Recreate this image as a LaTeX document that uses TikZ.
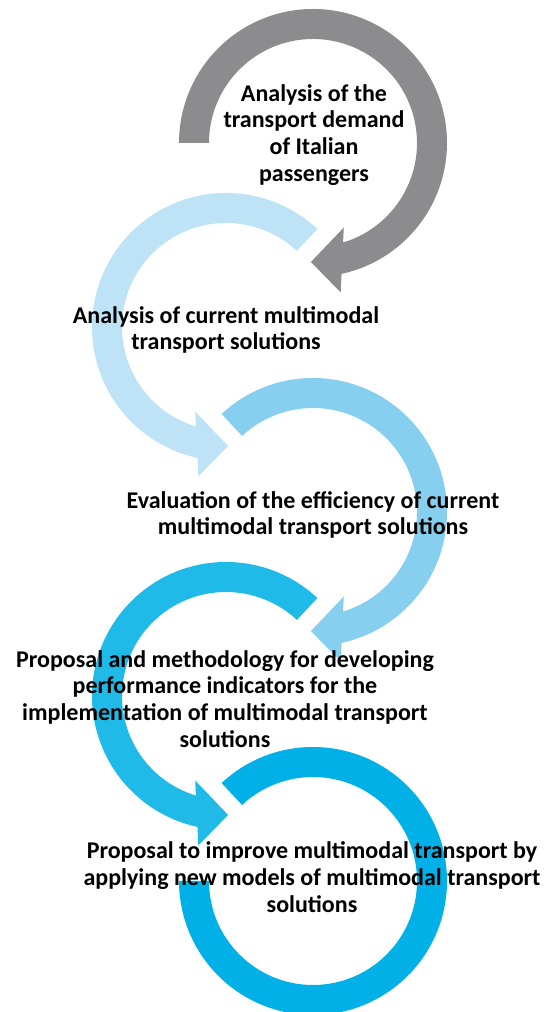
\documentclass[tikz,border=0pt]{standalone}
\usepackage{fontspec}
\setmainfont{Carlito}
\usepackage{tikz}

\definecolor{ringgray}{HTML}{8C8C8E}
\definecolor{ringpale}{HTML}{BEE3F6}
\definecolor{ringlight}{HTML}{86CFEE}
\definecolor{ringmid}{HTML}{1FBAE7}
\definecolor{ringdeep}{HTML}{00B0E6}

\begin{document}
\begin{tikzpicture}[
  x=0.5pt, y=0.5pt,
  stage/.style={font=\bfseries\fontsize{12}{13.4}\selectfont, align=center, inner sep=0pt},
  ring/.style={draw=none}
  ]
	\useasboundingbox (0,0) rectangle (551,1012);

	% clockwise rings (right column)
	\fill[ring, fill=ringgray, shift={(313,869)}]
	  (180:134) arc[start angle=180, end angle=-77.7, radius=134] -- (-79.5:152) -- (-91:119)
	  -- (-70:90) -- (-73.2:104) arc[start angle=-73.2, end angle=180, radius=104] -- cycle;
	\fill[ring, fill=ringlight, shift={(313,500)}]
	  (133:134) arc[start angle=133, end angle=-77.7, radius=134] -- (-79.5:152) -- (-91:119)
	  -- (-70:90) -- (-73.2:104) arc[start angle=-73.2, end angle=133, radius=104] -- cycle;
	\fill[ring, fill=ringdeep, shift={(313,131)}]
	  (133:134) arc[start angle=133, end angle=-180, radius=134]
	  -- (-180:104) arc[start angle=-180, end angle=133, radius=104] -- cycle;

	% counter-clockwise rings (left column)
	\fill[ring, fill=ringpale, shift={(226,685)}]
	  (47:134) arc[start angle=47, end angle=257.7, radius=134] -- (259.5:152) -- (271:119)
	  -- (250:90) -- (253.2:104) arc[start angle=253.2, end angle=47, radius=104] -- cycle;
	\fill[ring, fill=ringmid, shift={(226,316)}]
	  (47:134) arc[start angle=47, end angle=257.7, radius=134] -- (259.5:152) -- (271:119)
	  -- (250:90) -- (253.2:104) arc[start angle=253.2, end angle=47, radius=104] -- cycle;

	\node[stage] (demand) at (314,877) {Analysis of the\\transport demand\\of Italian\\passengers};
	\node[stage] (current) at (226,682) {Analysis of current multimodal\\transport solutions};
	\node[stage] (efficiency) at (313,497) {Evaluation of the efficiency of current\\multimodal transport solutions};
	\node[stage] (indicators) at (225,313) {Proposal and methodology for developing\\performance indicators for the\\implementation of multimodal transport\\solutions};
	\node[stage] (proposal) at (312,135) {Proposal to improve multimodal transport by\\applying new models of multimodal transport\\solutions};
\end{tikzpicture}
\end{document}
